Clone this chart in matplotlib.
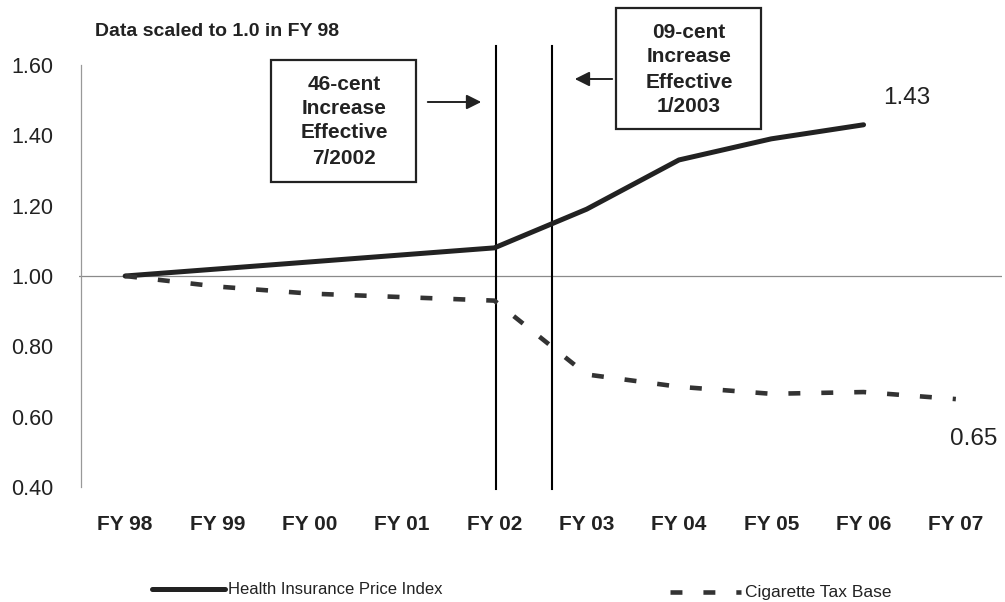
import matplotlib
matplotlib.use("Agg")
import matplotlib.pyplot as plt
from matplotlib.lines import Line2D

plt.rcParams['font.family'] = ['Liberation Sans', 'DejaVu Sans']
plt.rcParams['lines.scale_dashes'] = False

categories = ["FY 98", "FY 99", "FY 00", "FY 01", "FY 02", "FY 03", "FY 04", "FY 05", "FY 06", "FY 07"]
health = [1.00, 1.02, 1.04, 1.06, 1.08, 1.19, 1.33, 1.39, 1.43]
cigarette = [1.00, 0.97, 0.95, 0.94, 0.93, 0.72, 0.685, 0.665, 0.67, 0.65]
yticks = [0.40, 0.60, 0.80, 1.00, 1.20, 1.40, 1.60]
event_positions = [4.02, 4.63]

W, H = 1005, 602
fig = plt.figure(figsize=(W / 100, H / 100), dpi=100)
ax = fig.add_axes([79 / W, (H - 487) / H, (1002 - 79) / W, (487 - 65) / H])

for s in ['top', 'right', 'bottom']:
    ax.spines[s].set_visible(False)
ax.spines['left'].set_position(('data', -0.5 + 2 / 92.3))
ax.spines['left'].set_color('#999999')
ax.spines['left'].set_linewidth(0.9)

x_h = list(range(len(health)))
x_c = list(range(len(cigarette)))
ax.plot(x_h, health, color='#222222', lw=3.6, solid_capstyle='round', zorder=4)
ax.plot(x_c, cigarette, color='#333333', lw=3.3, linestyle=(0, (8.6, 15.1)),
        dash_capstyle='butt', zorder=4)

ax.axhline(1.0, color='#8a8a8a', lw=0.9, zorder=2)

for xp in event_positions:
    ax.plot([xp, xp], [0.395, 1.655], color='black', lw=1.5, clip_on=False, zorder=3)

ax.set_xlim(-0.5, 9.5)
ax.set_ylim(0.4, 1.6)
ax.set_yticks(yticks)
ax.set_yticklabels([f"{v:.2f}" for v in yticks])
ax.set_xticks(x_c)
ax.set_xticklabels(categories)
ax.tick_params(axis='y', length=0, pad=20, labelsize=15.5, labelcolor='#222222')
ax.tick_params(axis='x', length=0, pad=20, labelsize=15, labelcolor='#222222')
for lab in ax.get_xticklabels():
    lab.set_fontweight('bold')

# Title
fig.text(95 / W, 1 - 32 / H, "Data scaled to 1.0 in FY 98", fontsize=14,
         fontweight='bold', va='center', ha='left', color='#222222')

# Annotation boxes
def box(x0, y0, x1, y1, lines, cx, ys):
    r = plt.Rectangle((x0 / W, 1 - y1 / H), (x1 - x0) / W, (y1 - y0) / H,
                      transform=fig.transFigure, fill=True, facecolor='white',
                      edgecolor='#222222', lw=1.6, zorder=5)
    fig.add_artist(r)
    for t, yy in zip(lines, ys):
        fig.text(cx / W, 1 - yy / H, t, fontsize=15, fontweight='bold',
                 ha='center', va='center', color='#222222', zorder=6)

box(271, 60, 416, 182, ["46-cent", "Increase", "Effective", "7/2002"], 344, [84, 109, 133, 158])
box(616, 8, 761, 129, ["09-cent", "Increase", "Effective", "1/2003"], 689, [32, 57, 82, 107])

fig.add_artist(matplotlib.patches.FancyArrowPatch((425 / W, 1 - 102 / H), (484 / W, 1 - 102 / H),
               transform=fig.transFigure, arrowstyle='-|>', mutation_scale=22,
               color='#222222', lw=1.4))
fig.add_artist(matplotlib.patches.FancyArrowPatch((615 / W, 1 - 79 / H), (572 / W, 1 - 79 / H),
               transform=fig.transFigure, arrowstyle='-|>', mutation_scale=22,
               color='#222222', lw=1.4))

# End labels
fig.text(907 / W, 1 - 98 / H, f"{health[-1]:.2f}", fontsize=17.5, ha='center', va='center', color='#222222')
fig.text(974 / W, 1 - 439 / H, f"{cigarette[-1]:.2f}", fontsize=17.5, ha='center', va='center', color='#222222')

# Legend
fig.add_artist(Line2D([152 / W, 225 / W], [1 - 589 / H, 1 - 589 / H], transform=fig.transFigure,
                      color='#222222', lw=3.6, solid_capstyle='round'))
fig.text(228 / W, 1 - 590 / H, "Health Insurance Price Index", fontsize=12,
         ha='left', va='center', color='#222222')
fig.add_artist(Line2D([670 / W, 741 / W], [1 - 592 / H, 1 - 592 / H], transform=fig.transFigure,
                      color='#333333', lw=3.3, linestyle=(0, (8.6, 15.1))))
fig.text(745 / W, 1 - 593 / H, "Cigarette Tax Base", fontsize=12.5,
         ha='left', va='center', color='#222222')

fig.savefig("out.png", dpi=100, facecolor='white')
